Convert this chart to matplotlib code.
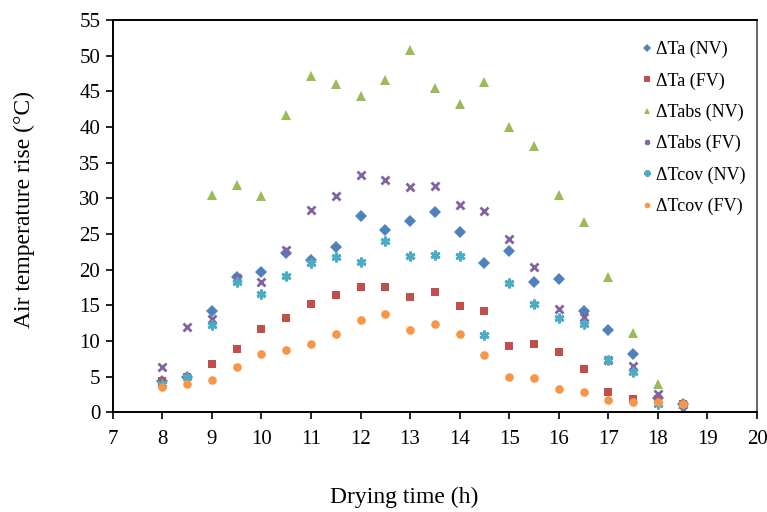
import matplotlib.pyplot as plt
import numpy as np

plt.rcParams['font.family'] = ['Liberation Serif', 'DejaVu Serif']

hours = [8, 8.5, 9, 9.5, 10, 10.5, 11, 11.5, 12, 12.5, 13, 13.5, 14, 14.5,
         15, 15.5, 16, 16.5, 17, 17.5, 18, 18.5]

ta_nv = [4.3, 5.0, 14.2, 19.0, 19.7, 22.3, 21.4, 23.2, 27.5, 25.5, 26.8, 28.0,
         25.3, 20.9, 22.6, 18.3, 18.7, 14.2, 11.5, 8.1, 2.0, 1.1]
ta_fv = [4.3, 5.0, 6.7, 8.9, 11.6, 13.2, 15.1, 16.5, 17.6, 17.5, 16.2, 16.9,
         14.9, 14.2, 9.3, 9.5, 8.5, 6.0, 2.85, 1.8, 1.9, 1.2]
tabs_nv = [np.nan, np.nan, 30.5, 31.8, 30.3, 41.7, 47.2, 46.0, 44.4, 46.6, 50.8,
           45.4, 43.2, 46.3, 40.0, 37.3, 30.5, 26.7, 18.9, 11.1, 3.9, 1.2]
tabs_fv = [6.3, 11.9, 13.1, 18.8, 18.2, 22.8, 28.4, 30.3, 33.3, 32.5, 31.6,
           31.7, 29.1, 28.2, 24.3, 20.3, 14.5, 13.4, 7.3, 6.45, 2.5, 0.3]
tcov_nv = [4.0, 5.0, 12.2, 18.3, 16.6, 19.1, 20.9, 21.8, 21.0, 24.0, 21.9, 22.1,
           21.9, 10.8, 18.1, 15.2, 13.2, 12.4, 7.3, 5.7, 1.2, 1.2]
tcov_fv = [3.5, 4.0, 4.5, 6.4, 8.1, 8.7, 9.5, 11.0, 12.9, 13.8, 11.5, 12.3,
           11.0, 8.0, 5.0, 4.8, 3.2, 2.8, 1.7, 1.4, 1.45, 1.1]

# (values, label, marker, colour, size, edge width)
series = [
    (ta_nv, 'ΔTa (NV)', 'D', '#4F81BD', 6.0, 0),
    (ta_fv, 'ΔTa (FV)', 's', '#C0504D', 6.2, 0),
    (tabs_nv, 'ΔTabs (NV)', '^', '#9BBB59', 7.0, 0),
    (tabs_fv, 'ΔTabs (FV)', 'x', '#8064A2', 5.5, 2.0),
    (tcov_nv, 'ΔTcov (NV)', (6, 2, 0), '#4BACC6', 7.0, 2.0),
    (tcov_fv, 'ΔTcov (FV)', 'o', '#F79646', 6.2, 0),
]

fig = plt.figure(figsize=(7.67, 5.12), dpi=100)
ax = fig.add_axes([0.147, 0.195, 0.84, 0.766])

for vals, label, marker, color, ms, mew in series:
    ax.plot(hours, vals, linestyle='none', marker=marker, color=color,
            markersize=ms, markeredgewidth=mew, label=label)

ax.set_xlim(7, 20)
ax.set_ylim(0, 55)
ax.set_xticks(range(7, 21))
ax.set_yticks(range(0, 56, 5))
ax.tick_params(direction='out', length=5, width=1.2, labelsize=15, pad=8)
ax.tick_params(axis='y', pad=4)
for side in ('left', 'bottom', 'top'):
    ax.spines[side].set_linewidth(1.4)
    ax.spines[side].set_color('black')
ax.spines['right'].set_color('#666666')
ax.spines['right'].set_linewidth(1.4)

ax.set_xlabel('Drying time (h)', fontsize=17)
ax.set_ylabel('Air temperature rise (°C)', fontsize=17)
ax.xaxis.set_label_coords(0.453, -0.19)
ax.yaxis.set_label_coords(-0.121, 0.518)

leg = ax.legend(loc='upper left', bbox_to_anchor=(0.81, 0.965), frameon=False,
                fontsize=13, markerscale=0.65, handlelength=0.6,
                handletextpad=0.2, labelspacing=0.78, borderaxespad=0)

fig.savefig('out.png', dpi=100)
